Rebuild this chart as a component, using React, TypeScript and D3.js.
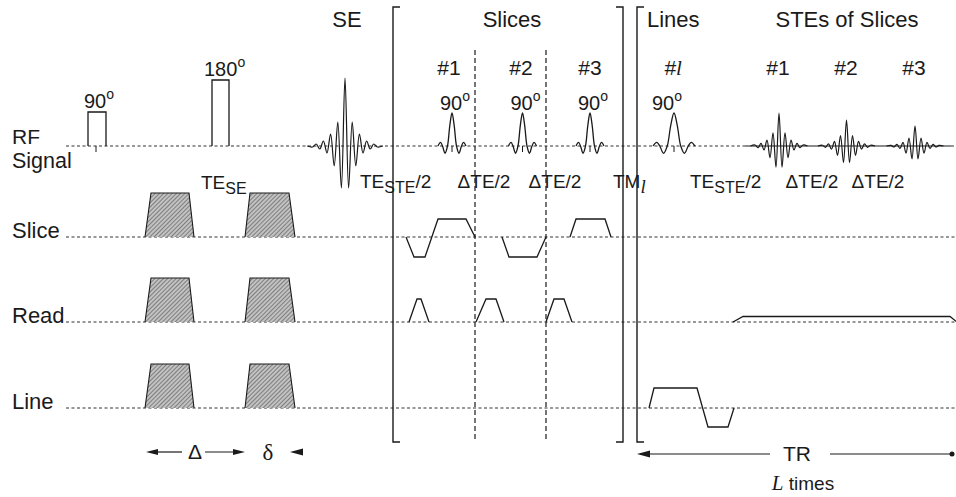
import * as d3 from 'd3';
import React from 'react';

// schematic timing, in diagram time units (≈ px of the original figure)
const W = 956;
const H = 497;

const channels = ['RF', 'Slice', 'Read', 'Line'];
const baselines = [146, 237, 322, 408];

// hard RF pulses: start, end, height, label
const hardPulses = [
  { t0: 88, t1: 106, amp: 34, label: '90' },
  { t0: 212, t1: 229, amp: 66, label: '180' },
];

// sinc shaped selective pulses (centre, height, width factor)
const sincPulses = [
  { t: 452, amp: 33, w: 1 },
  { t: 522.5, amp: 33, w: 1 },
  { t: 590, amp: 33, w: 1 },
  { t: 674, amp: 33, w: 1.5 },
];
// normalised sinc outline: [dt, relative amplitude]
const sincShape: [number, number][] = [
  [-14, 0], [-11.5, 0.11], [-9.5, 0], [-7, -0.22], [-4.5, 0], [-2.2, 0.62],
  [0, 1], [2.2, 0.62], [4.5, 0], [7, -0.22], [9.5, 0], [11.5, 0.11], [14, 0],
];

// echoes: centre, half period, lobe heights from centre outward
const seEcho = { t: 345, half: 3.6, lobes: [68, -42, 24, -20, 12, -7, 5, -3, 2, -1] };
const steEnvelope = [1, -0.64, 0.4, -0.36, 0.18, -0.12, 0.08, -0.05, 0.03];
const steEchoes = [
  { t: 779, amp: 33 },
  { t: 846.5, amp: 26 },
  { t: 915, amp: 20 },
];

// gradient lobes [t, height]
const crushers: [number, number][][] = [
  [[145, 0], [151, 44], [189, 44], [194, 0]],
  [[245, 0], [250, 44], [289, 44], [295, 0]],
];
const sliceGrads: [number, number][][] = [
  [[406, 0], [414, -20], [425, -20], [438, 18], [466, 18], [475, 0]],
  [[502, 0], [509, -20], [537, -20], [546, 0]],
  [[570, 0], [576, 18], [605, 18], [611, 0]],
];
const readGrads: [number, number][][] = [
  [[409, 0], [417, 23], [421, 23], [429, 0]],
  [[476, 0], [486, 23], [496, 23], [504, 0]],
  [[546, 0], [554, 23], [564, 23], [572, 0]],
  [[733, 0], [743, 5.5], [950, 5.5], [957, 0]],
];
const lineGrads: [number, number][][] = [
  [[649, 0], [654, 20], [697, 20], [708, -19], [728, -19], [734, 0]],
];

const sliceNumbers = ['#1', '#2', '#3'];
const slicePos = [449, 521, 590];
const steNumbers = ['#1', '#2', '#3'];
const stePos = [778, 846, 914];
const deltaTE = ['ΔTE/2', 'ΔTE/2'];
const deltaTEPosSlices = [484, 555];
const deltaTEPosLines = [812, 878];

const FONT = '"Liberation Sans", Arial, Helvetica, sans-serif';
const SERIF = '"Liberation Serif", "Times New Roman", serif';
const INK = '#1a1a1a';

export default function App() {
  const x = d3.scaleLinear().domain([0, W]).range([0, W]);
  const yAmp = (ch: number) =>
    d3.scaleLinear().domain([0, 1]).range([baselines[ch], baselines[ch] - 1]);

  const lineFor = (ch: number) =>
    d3.line<[number, number]>()
      .x(d => x(d[0]))
      .y(d => yAmp(ch)(d[1]));

  const curveFor = (ch: number) =>
    d3.line<[number, number]>()
      .x(d => x(d[0]))
      .y(d => yAmp(ch)(d[1]))
      .curve(d3.curveCatmullRom.alpha(0.5));

  const echoPoints = (t: number, half: number, lobes: number[]) => {
    const pts: [number, number][] = [];
    const n = lobes.length;
    pts.push([t - (n + 0.5) * half, 0]);
    for (let i = -(n - 1); i <= n - 1; i++) pts.push([t + i * half, lobes[Math.abs(i)]]);
    pts.push([t + (n + 0.5) * half, 0]);
    return pts;
  };

  const rfBase = baselines[0];

  const sup = (main: string, ax: number, by: number) => (
    <text x={ax} y={by} fontFamily={FONT} fontSize={20} fill={INK}>
      {main}
      <tspan fontSize={14} dy={-9}>o</tspan>
    </text>
  );

  const sub = (main: string, subTxt: string, tail: string, ax: number, by: number) => (
    <text x={ax} y={by} fontFamily={FONT} fontSize={19} fill={INK}>
      {main}
      <tspan fontSize={16} dy={5}>{subTxt}</tspan>
      {tail && <tspan fontSize={19} dy={-5}>{tail}</tspan>}
    </text>
  );

  const dash = { stroke: '#333', strokeWidth: 1, strokeDasharray: '3,2.5', fill: 'none' };

  return (
    <svg width={W} height={H} style={{ position: 'absolute', left: 0, top: 0, background: '#fff' }}>
      <defs>
        <pattern id="hatch" width="3" height="3" patternUnits="userSpaceOnUse" patternTransform="rotate(45)">
          <rect width="3" height="3" fill="#c2c2c2" />
          <line x1="0" y1="0" x2="0" y2="3" stroke="#3a3a3a" strokeWidth="1" />
        </pattern>
      </defs>

      {/* channel labels */}
      <text x={12} y={144} fontFamily={FONT} fontSize={21} fill={INK}>RF</text>
      <text x={12} y={168} fontFamily={FONT} fontSize={21.5} fill={INK}>Signal</text>
      {channels.slice(1).map((c, i) => (
        <text key={c} x={12} y={baselines[i + 1] + 1} fontFamily={FONT} fontSize={22} fill={INK}>{c}</text>
      ))}

      {/* baselines */}
      <line x1={x(66)} x2={x(745)} y1={rfBase} y2={rfBase} {...dash} />
      <line x1={x(745)} x2={x(951)} y1={rfBase} y2={rfBase} stroke={INK} strokeWidth={1.2} />
      <line x1={x(951)} x2={x(956)} y1={rfBase} y2={rfBase} {...dash} />
      {[1, 2, 3].map(ch => (
        <line key={ch} x1={x(66)} x2={x(956)} y1={baselines[ch]} y2={baselines[ch]} {...dash} />
      ))}

      {/* section brackets */}
      <path d={`M${x(400)},7H${x(393)}V442H${x(400)}`} fill="none" stroke={INK} strokeWidth={1.4} />
      <path d={`M${x(616)},7H${x(623)}V442H${x(616)}`} fill="none" stroke={INK} strokeWidth={1.4} />
      <path d={`M${x(644)},7H${x(637)}V442H${x(644)}`} fill="none" stroke={INK} strokeWidth={1.4} />
      {[475, 546].map(t => (
        <line key={t} x1={x(t)} x2={x(t)} y1={50} y2={442} stroke={INK} strokeWidth={1.2} strokeDasharray="5,3" />
      ))}

      {/* hard RF pulses */}
      {hardPulses.map(p => (
        <g key={p.label}>
          <path d={`M${x(p.t0)},${rfBase}V${yAmp(0)(p.amp)}H${x(p.t1)}V${rfBase}`} fill="none" stroke={INK} strokeWidth={1.3} />
          {sup(p.label, x(p.t0) - (p.label === '90' ? 4 : 8), yAmp(0)(p.amp) - 4)}
        </g>
      ))}
      <line x1={x(96)} x2={x(96)} y1={rfBase} y2={rfBase + 6} stroke={INK} strokeWidth={1} />

      {/* selective pulses */}
      {sincPulses.map(p => (
        <g key={p.t}>
          <path d={curveFor(0)(sincShape.map(([dt, a]) => [p.t + dt * p.w, a * p.amp]))!} fill="none" stroke={INK} strokeWidth={1.3} />
          <line x1={x(p.t)} x2={x(p.t)} y1={rfBase} y2={rfBase + 6} stroke={INK} strokeWidth={1} />
          {sup('90', x(p.t) - 12 + (p.w > 1 ? -10 : 0), 110)}
        </g>
      ))}

      {/* echoes */}
      <path d={curveFor(0)(echoPoints(seEcho.t, seEcho.half, seEcho.lobes))!} fill="none" stroke={INK} strokeWidth={1.2} />
      {steEchoes.map(e => (
        <path key={e.t} d={curveFor(0)(echoPoints(e.t, 3.0, steEnvelope.map(v => v * e.amp)))!} fill="none" stroke={INK} strokeWidth={1.2} />
      ))}

      {/* diffusion gradients */}
      {[1, 2, 3].map(ch =>
        crushers.map((c, i) => (
          <path key={`${ch}-${i}`} d={lineFor(ch)(c)!} fill="url(#hatch)" stroke={INK} strokeWidth={1.1} />
        ))
      )}

      {/* imaging gradients */}
      {sliceGrads.map((g, i) => <path key={`s${i}`} d={lineFor(1)(g)!} fill="none" stroke={INK} strokeWidth={1.3} />)}
      {readGrads.map((g, i) => <path key={`r${i}`} d={lineFor(2)(g)!} fill="none" stroke={INK} strokeWidth={1.3} />)}
      {lineGrads.map((g, i) => <path key={`l${i}`} d={lineFor(3)(g)!} fill="none" stroke={INK} strokeWidth={1.3} />)}

      {/* section titles */}
      <text x={347} y={27} textAnchor="middle" fontFamily={FONT} fontSize={22} fill={INK}>SE</text>
      <text x={512} y={27} textAnchor="middle" fontFamily={FONT} fontSize={22} fill={INK}>Slices</text>
      <text x={647} y={27} fontFamily={FONT} fontSize={22} fill={INK}>Lines</text>
      <text x={847} y={27} textAnchor="middle" fontFamily={FONT} fontSize={22} fill={INK}>STEs of Slices</text>

      {sliceNumbers.map((s, i) => (
        <text key={`n${i}`} x={slicePos[i]} y={75} textAnchor="middle" fontFamily={FONT} fontSize={21} fill={INK}>{s}</text>
      ))}
      {steNumbers.map((s, i) => (
        <text key={`m${i}`} x={stePos[i]} y={75} textAnchor="middle" fontFamily={FONT} fontSize={21} fill={INK}>{s}</text>
      ))}
      <text x={673} y={75} textAnchor="middle" fontSize={21} fill={INK} fontStyle="italic">
        <tspan fontFamily={FONT}>#</tspan>
        <tspan fontFamily={SERIF}>l</tspan>
      </text>

      {/* timing labels */}
      {sub('TE', 'SE', '', 201, 189)}
      {sub('TE', 'STE', '/2', 360, 188)}
      {sub('TE', 'STE', '/2', 690, 188)}
      {deltaTE.map((s, i) => (
        <text key={`a${i}`} x={deltaTEPosSlices[i]} y={188} textAnchor="middle" fontFamily={FONT} fontSize={19} fill={INK}>{s}</text>
      ))}
      {deltaTE.map((s, i) => (
        <text key={`b${i}`} x={deltaTEPosLines[i]} y={188} textAnchor="middle" fontFamily={FONT} fontSize={19} fill={INK}>{s}</text>
      ))}
      <text x={613} y={188} fontFamily={FONT} fontSize={19} fill={INK}>
        TM<tspan fontFamily={SERIF} fontStyle="italic" dy={5}>l</tspan>
      </text>

      {/* Δ / δ and TR arrows */}
      <g stroke={INK} fill={INK}>
        <line x1={x(152)} x2={x(182)} y1={452} y2={452} strokeWidth={1.2} />
        <path d={`M${x(146)},452L${x(158)},449L${x(158)},455Z`} stroke="none" />
        <line x1={x(205)} x2={x(238)} y1={452} y2={452} strokeWidth={1.2} />
        <path d={`M${x(245)},452L${x(233)},449L${x(233)},455Z`} stroke="none" />
        <path d={`M${x(290)},452L${x(303)},448.5L${x(303)},455.5Z`} stroke="none" />
        <line x1={x(640)} x2={x(770)} y1={454} y2={454} strokeWidth={1.2} />
        <path d={`M${x(637)},454L${x(650)},450.5L${x(650)},457.5Z`} stroke="none" />
        <line x1={x(830)} x2={x(950)} y1={454} y2={454} strokeWidth={1.2} />
        <circle cx={x(952)} cy={454} r={2.5} stroke="none" />
      </g>
      <text x={195} y={459} textAnchor="middle" fontFamily={FONT} fontSize={21} fill={INK}>Δ</text>
      <text x={268} y={460} textAnchor="middle" fontFamily={SERIF} fontSize={23} fill={INK}>δ</text>
      <text x={797} y={461} textAnchor="middle" fontFamily={FONT} fontSize={21} fill={INK}>TR</text>
      <text x={803} y={490} textAnchor="middle" fontFamily={FONT} fontSize={19} fill={INK}>
        <tspan fontFamily={SERIF} fontStyle="italic" fontSize={21}>L</tspan> times
      </text>
    </svg>
  );
}
